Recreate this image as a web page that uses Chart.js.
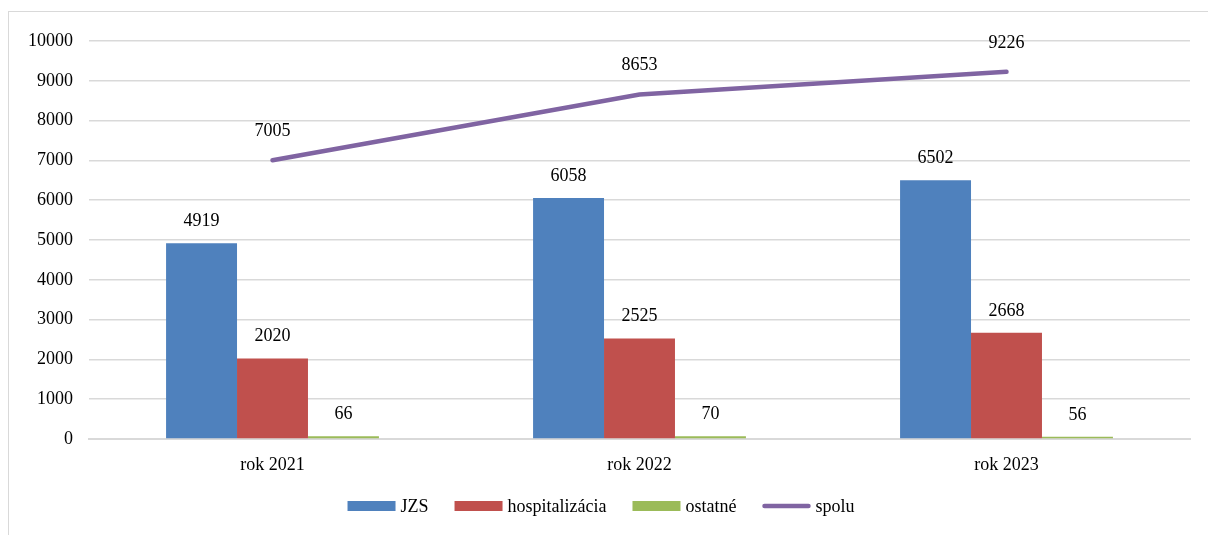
<!DOCTYPE html>
<html>
<head>
<meta charset="utf-8">
<script src="https://cdn.jsdelivr.net/npm/chart.js@4.4.1/dist/chart.umd.min.js"></script>
<style>
html,body{margin:0;padding:0;background:#fff;}
#wrap{position:relative;width:1208px;height:535px;}
</style>
</head>
<body>
<div id="wrap"><canvas id="c" width="1208" height="535"></canvas></div>
<script>
const categories = ['rok 2021', 'rok 2022', 'rok 2023'];
const jzs = [4919, 6058, 6502];
const hospitalizacia = [2020, 2525, 2668];
const ostatne = [66, 70, 56];
const spolu = [7005, 8653, 9226];
const seriesNames = ['JZS', 'hospitalizácia', 'ostatné', 'spolu'];
const yTicks = [0, 1000, 2000, 3000, 4000, 5000, 6000, 7000, 8000, 9000, 10000];

const FONT = "'Liberation Serif', 'Times New Roman', serif";
const colors = ['#4F81BD', '#C0504D', '#9BBB59', '#8064A2'];

const frame = {
  id: 'frame',
  beforeDraw(chart) {
    const ctx = chart.ctx;
    ctx.save();
    ctx.fillStyle = '#fff';
    ctx.fillRect(0, 0, chart.width, chart.height);
    ctx.strokeStyle = '#d9d9d9';
    ctx.lineWidth = 1;
    ctx.strokeRect(8.5, 11.5, chart.width + 10, chart.height + 10);
    ctx.restore();
  }
};

const valueLabels = {
  id: 'valueLabels',
  afterDatasetsDraw(chart) {
    const ctx = chart.ctx;
    ctx.save();
    ctx.font = '18px ' + FONT;
    ctx.fillStyle = '#000';
    ctx.textAlign = 'center';
    ctx.textBaseline = 'middle';
    chart.data.datasets.forEach((ds, i) => {
      const meta = chart.getDatasetMeta(i);
      const off = ds.type === 'line' ? 29 : 22;
      meta.data.forEach((el, j) => {
        ctx.fillText(String(ds.data[j]), el.x, el.y - off);
      });
    });
    ctx.restore();
  }
};

const customLegend = {
  id: 'customLegend',
  afterDraw(chart) {
    const ctx = chart.ctx;
    ctx.save();
    ctx.font = '18px ' + FONT;
    ctx.textBaseline = 'middle';
    ctx.fillStyle = '#000';
    const boxW = 48, gap = 5, itemGap = 26, y = 506;
    const ds = chart.data.datasets;
    const widths = ds.map(d => boxW + gap + ctx.measureText(d.label).width);
    const total = widths.reduce((a, b) => a + b, 0) + itemGap * (ds.length - 1);
    let x = 601 - total / 2;
    ds.forEach((d, i) => {
      if (d.type === 'line') {
        ctx.strokeStyle = d.borderColor;
        ctx.lineWidth = 4.5;
        ctx.lineCap = 'round';
        ctx.beginPath();
        ctx.moveTo(x + 2, y);
        ctx.lineTo(x + boxW - 2, y);
        ctx.stroke();
      } else {
        ctx.fillStyle = d.backgroundColor;
        ctx.fillRect(x, y - 5, boxW, 10);
      }
      ctx.fillStyle = '#000';
      ctx.textAlign = 'left';
      ctx.fillText(d.label, x + boxW + gap, y + 1);
      x += widths[i] + itemGap;
    });
    ctx.restore();
  }
};

new Chart(document.getElementById('c'), {
  data: {
    labels: categories,
    datasets: [
      { type: 'bar', label: seriesNames[0], data: jzs, backgroundColor: colors[0], order: 2 },
      { type: 'bar', label: seriesNames[1], data: hospitalizacia, backgroundColor: colors[1], order: 2 },
      { type: 'bar', label: seriesNames[2], data: ostatne, backgroundColor: colors[2], order: 2 },
      { type: 'line', label: seriesNames[3], data: spolu, borderColor: colors[3], backgroundColor: colors[3],
        borderWidth: 4.5, borderCapStyle: 'round', pointRadius: 0, pointHoverRadius: 0, tension: 0, order: 1 }
    ]
  },
  options: {
    responsive: false,
    animation: false,
    devicePixelRatio: 1,
    layout: { padding: { left: 28, right: 18, top: 41, bottom: 56 } },
    datasets: { bar: { barPercentage: 1, categoryPercentage: 0.58 } },
    plugins: { legend: { display: false }, tooltip: { enabled: false } },
    scales: {
      x: {
        grid: { display: false, drawTicks: false },
        border: { display: true, color: '#d9d9d9', width: 2 },
        ticks: { color: '#000', font: { family: FONT, size: 18 }, padding: 15 },
        afterFit(s) { s.height = 40; }
      },
      y: {
        min: 0, max: 10000,
        afterBuildTicks(s) { s.ticks = yTicks.map(v => ({ value: v })); },
        grid: { color: '#d9d9d9', lineWidth: 1.5, drawTicks: false },
        border: { display: false },
        ticks: { color: '#000', font: { family: FONT, size: 18 }, padding: 16,
                 callback: v => String(v) },
        afterFit(s) { s.width = 61; }
      }
    }
  },
  plugins: [frame, valueLabels, customLegend]
});
</script>
</body>
</html>
